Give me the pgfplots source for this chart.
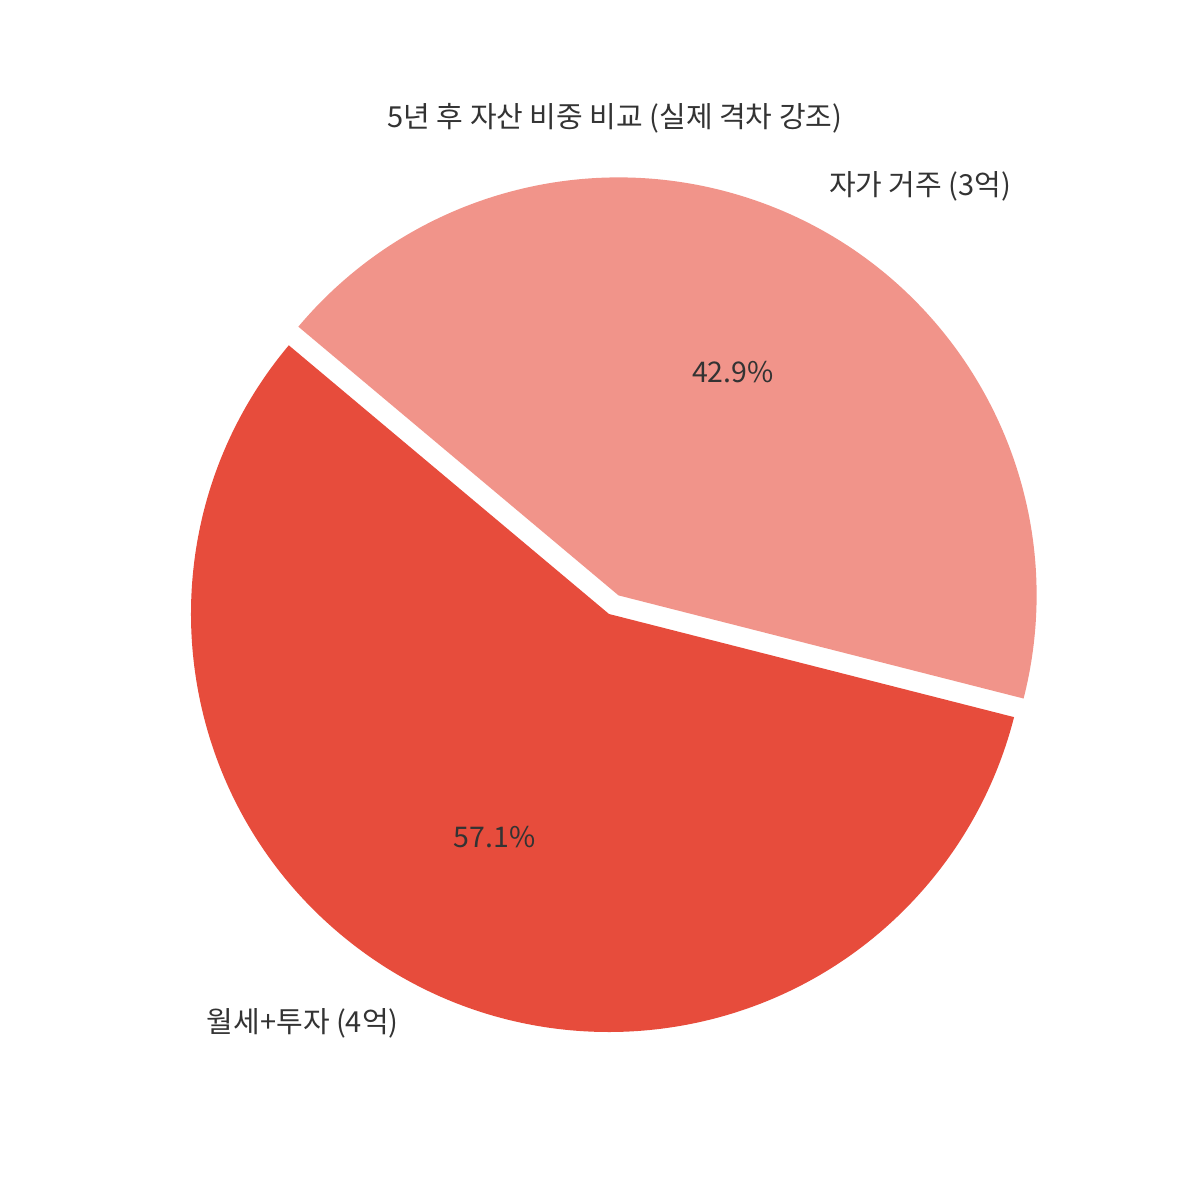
\documentclass[border=0pt]{standalone}
\usepackage{pgfplots}
\pgfplotsset{compat=1.18}
\usepackage{pgfplotstable}
\usepackage{fontspec}
\setmainfont{Noto Sans CJK KR}

\definecolor{slice0}{HTML}{E74C3C}
\definecolor{slice1}{HTML}{F1948A}
\definecolor{txt}{HTML}{333333}

\newcommand\lbl{\fontsize{8.25pt}{9.5pt}\selectfont}
\newcommand\pct{\fontsize{8.1pt}{9pt}\selectfont}

% slices, counter-clockwise from 140 degrees
\pgfplotstableread[col sep=comma]{
label,value,explode
월세+투자 (4억),4,0
자가 거주 (3억),3,0.05
}\piedata

\def\R{41.8mm}% pie radius (418 axis units)

\begin{document}
\begin{tikzpicture}
% angles of each slice
\def\total{0}
\pgfplotstableforeachcolumnelement{value}\of\piedata\as\v{%
  \pgfmathparse{\total+\v}\xdef\total{\pgfmathresult}}
\def\cur{140}
\pgfplotstableforeachcolumnelement{value}\of\piedata\as\v{%
  \edef\r{\pgfplotstablerow}%
  \pgfmathparse{\v/\total*360}\let\pieSpan\pgfmathresult
  \expandafter\xdef\csname pieS\r\endcsname{\cur}%
  \pgfmathparse{\cur+\pieSpan}\xdef\cur{\pgfmathresult}%
  \expandafter\xdef\csname pieE\r\endcsname{\cur}%
  \pgfmathparse{\csname pieS\r\endcsname+\pieSpan/2}%
  \expandafter\xdef\csname pieM\r\endcsname{\pgfmathresult}%
  \pgfmathparse{cos(\csname pieM\r\endcsname)}%
  \ifdim\pgfmathresult pt<0pt
    \expandafter\xdef\csname pieA\r\endcsname{east}%
  \else
    \expandafter\xdef\csname pieA\r\endcsname{west}%
  \fi
  \pgfmathparse{\v/\total*100}%
  \expandafter\xdef\csname pieP\r\endcsname{\pgfmathresult}%
  \pgfplotstablegetelem{\r}{explode}\of\piedata
  \expandafter\xdef\csname pieX\r\endcsname{\pgfplotsretval}%
  \pgfplotstablegetelem{\r}{label}\of\piedata
  \global\expandafter\let\csname pieL\r\endcsname\pgfplotsretval
}
\begin{axis}[
  scale only axis,
  width=12cm, height=12cm,
  xmin=0, xmax=1200, ymin=0, ymax=1200,
  hide axis,
  clip=false,
]
  \path (axis cs:0,0) rectangle (axis cs:1200,1200);
  \pgfplotsinvokeforeach{0,1}{
    \fill[slice#1] (axis cs:609,586) ++(\csname pieM#1\endcsname:\csname pieX#1\endcsname*\R)
      -- ++(\csname pieS#1\endcsname:\R)
      arc[start angle=\csname pieS#1\endcsname, end angle=\csname pieE#1\endcsname, radius=\R]
      -- cycle;
  }
  \pgfplotsinvokeforeach{0,1}{
    \path (axis cs:609,586) ++(\csname pieM#1\endcsname:\csname pieX#1\endcsname*\R)
      ++(\csname pieM#1\endcsname:1.1*\R)
      node[anchor=\csname pieA#1\endcsname, font=\lbl, text=txt, inner sep=0pt] {\csname pieL#1\endcsname};
    \path (axis cs:609,586) ++(\csname pieM#1\endcsname:\csname pieX#1\endcsname*\R)
      ++(\csname pieM#1\endcsname:0.6*\R)
      node[font=\pct, text=txt, inner sep=0pt] {\pgfmathprintnumber[fixed,precision=1,fixed zerofill,assume math mode=true]{\csname pieP#1\endcsname}\%};
  }
  \node[font=\lbl, text=txt, inner sep=0pt] at (axis cs:615,1082) {5년 후 자산 비중 비교 (실제 격차 강조)};
\end{axis}
\end{tikzpicture}
\end{document}
